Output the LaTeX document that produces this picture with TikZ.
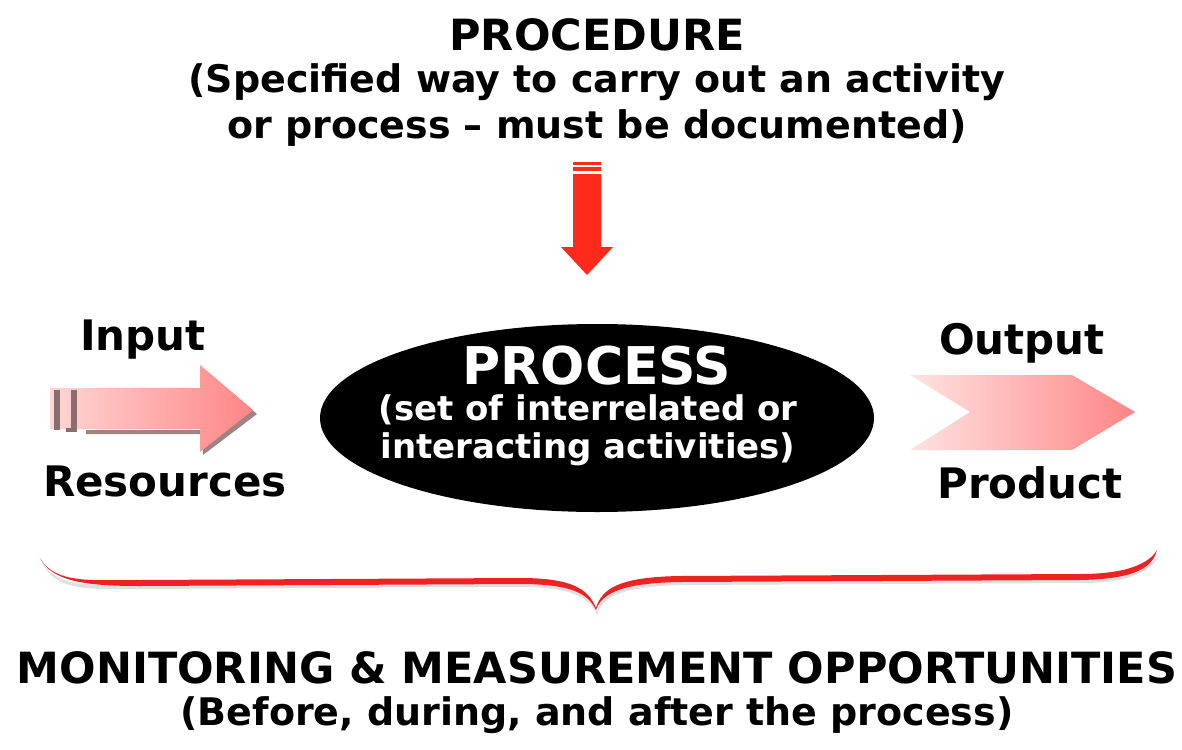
\documentclass[tikz,border=0pt]{standalone}
\usepackage{fontspec}
\setmainfont{DejaVu Sans}
\usetikzlibrary{shapes.geometric}
\definecolor{arrred}{HTML}{FF2A1C}
\definecolor{pinkL}{HTML}{FFD6D6}
\definecolor{pinkR}{HTML}{FF8585}
\definecolor{stripe}{HTML}{8A6E6E}
\definecolor{bracered}{HTML}{EE2222}
\tikzset{
  big/.style={font=\bfseries\fontsize{43}{46}\selectfont, align=center, inner sep=0pt},
  mid/.style={font=\bfseries\fontsize{38}{46}\selectfont, align=center, inner sep=0pt},
  lab/.style={font=\bfseries\fontsize{42}{46}\selectfont, inner sep=0pt},
}
\begin{document}
\begin{tikzpicture}[x=1pt,y=-1pt]
\useasboundingbox (0,0) rectangle (1182,749);
% title
\node[big] (proc) at (597,35) {PROCEDURE};
\node[mid] (procsub) at (597,105) {(Specified way to carry out an activity\\or process -- must be documented)};
% down arrow
\fill[arrred] (573,174) -- (601,174) -- (601,247) -- (613,247) -- (587,275) -- (561,247) -- (573,247) -- cycle;
\fill[arrred] (573,162) rectangle (601,165);
\fill[arrred] (573,167) rectangle (601,171);
% process ellipse
\node[ellipse, fill=black, minimum width=554, minimum height=188, inner sep=0pt] (process) at (597,418) {};
\node[font=\bfseries\fontsize{52}{46}\selectfont, text=white, inner sep=0pt] (ptitle) at (597,366) {PROCESS};
\node[font=\bfseries\fontsize{34}{38}\selectfont, text=white, align=center, inner sep=0pt] (psub) at (588,430) {(set of interrelated or\\interacting activities)};
% input
\node[lab] (input) at (143,340) {Input};
\node[lab] (resources) at (165,481) {Resources};
\fill[stripe!85] (86,430) -- (203,430) -- (203,368) -- (257,414) -- (203,455) -- (203,434) -- (86,434) -- cycle;
\shade[left color=pinkL, right color=pinkR] (50,388) -- (200,388) -- (200,365) -- (253,410) -- (200,452) -- (200,429) -- (50,429) -- cycle;
\fill[stripe] (54,390) rectangle (60,430);
\fill[stripe] (71,390) rectangle (77,432);
\fill[stripe] (66,428) rectangle (77,432);
% output
\node[lab] (output) at (1022,343) {Output};
\node[lab] (product) at (1030,483) {Product};
\shade[left color=pinkL!70!white, right color=pinkR] (910,375) -- (1072,375) -- (1135,412) -- (1072,450) -- (910,450) -- (970,412) -- cycle;
% brace
\fill[gray!25] (42,562) .. controls (60,590) and (90,584) .. (140,584) -- (520,582) .. controls (570,582) and (590,592) .. (597,612) .. controls (602,592) and (620,582) .. (680,580) -- (1080,578) .. controls (1130,578) and (1150,566) .. (1160,555) .. controls (1150,572) and (1130,583) .. (1080,583) -- (680,585) .. controls (620,587) and (602,597) .. (597,615) .. controls (590,597) and (570,587) .. (520,587) -- (140,589) .. controls (90,589) and (55,592) .. cycle;
\fill[bracered] (40,558) .. controls (55,584) and (90,580) .. (140,580) -- (520,578) .. controls (570,578) and (588,588) .. (596,608) .. controls (602,588) and (620,577) .. (680,576) -- (1080,574) .. controls (1130,574) and (1150,562) .. (1157,550) .. controls (1152,570) and (1130,579) .. (1080,580) -- (680,582) .. controls (622,583) and (602,593) .. (596,610) .. controls (588,593) and (570,584) .. (520,584) -- (140,586) .. controls (88,586) and (52,582) .. cycle;
% bottom
\node[big] (mon) at (597,668) {MONITORING \& MEASUREMENT OPPORTUNITIES};
\node[mid] (monsub) at (597,715) {(Before, during, and after the process)};
\end{tikzpicture}
\end{document}
